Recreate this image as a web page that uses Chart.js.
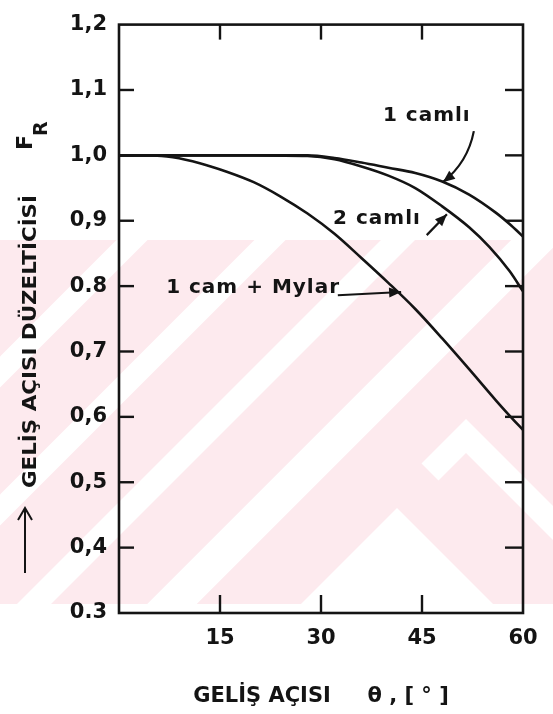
<!DOCTYPE html>
<html lang="tr">
<head>
<meta charset="utf-8">
<title>Geliş açısı düzelticisi F_R</title>
<script src="https://cdn.jsdelivr.net/npm/chart.js@4.4.1/dist/chart.umd.min.js"></script>
<style>
    html, body { margin: 0; padding: 0; background: #fff; }
    canvas { display: block; }
</style>
</head>
<body>
<canvas id="chart-fr" width="553" height="714"></canvas>
<script>
// (theta derece, F_R)
const camli1Theta = [0, 10, 20, 28, 32, 36, 40, 44, 48, 52, 56, 58, 60];
const camli1FR    = [1.0, 1.0, 1.0, 1.0, 0.996, 0.989, 0.981, 0.973, 0.960, 0.940, 0.912, 0.895, 0.876];

const camli2Theta = [0, 10, 20, 28, 32, 36, 40, 44, 48, 52, 55, 58, 60];
const camli2FR    = [1.0, 1.0, 1.0, 0.999, 0.994, 0.983, 0.969, 0.950, 0.922, 0.890, 0.860, 0.823, 0.792];

const mylarTheta = [0, 5, 8, 12, 16, 20, 24, 28, 32, 36, 40, 44, 48, 52, 56, 58, 60];
const mylarFR    = [1.0, 1.0, 0.997, 0.988, 0.975, 0.959, 0.937, 0.911, 0.880, 0.843, 0.805, 0.765, 0.720, 0.673, 0.625, 0.602, 0.58];

const curveNames = ['1 camlı', '2 camlı', '1 cam + Mylar'];
const yTickLabels = ['0.3', '0,4', '0,5', '0,6', '0,7', '0.8', '0,9', '1,0', '1,1', '1,2'];
const xTickLabels = ['', '15', '30', '45', '60'];

const INK = '#141414';
const FONT = '"DejaVu Sans", sans-serif';

const toPoints = (xs, ys) => xs.map((x, i) => ({ x: x, y: ys[i] }));

// etiket ve ok konumlari veri biriminde (theta, F_R)
const notes = [
    { text: curveNames[0], at: [39.2, 1.060], arrow: [[52.7, 1.037], [51.8, 0.989], [48.1, 0.959]] },
    { text: curveNames[1], at: [31.8, 0.9035], arrow: [[45.7, 0.878], null, [48.7, 0.910]] },
    { text: curveNames[2], at: [7.0, 0.797], arrow: [[32.5, 0.786], null, [41.9, 0.791]] }
];

// arka plandaki soluk pembe filigran
const watermark = {
    id: 'watermark',
    beforeDraw(chart) {
        const ctx = chart.ctx;
        ctx.save();
        ctx.fillStyle = '#fff';
        ctx.fillRect(0, 0, chart.width, chart.height);
        ctx.beginPath();
        ctx.rect(0, 240, chart.width, 364);
        ctx.clip();
        ctx.fillStyle = '#fdeaee';
        ctx.fillRect(0, 240, chart.width, 364);
        ctx.strokeStyle = '#fff';
        // [x + y sabiti, kalinlik]
        [[372, 22], [510, 22], [638, 24], [776, 35]].forEach(([c, lw]) => {
            ctx.lineWidth = lw;
            ctx.beginPath();
            ctx.moveTo(c - 150, 150);
            ctx.lineTo(c - 700, 700);
            ctx.stroke();
        });
        // ucgen ve sag tarafta ters v
        ctx.fillStyle = '#fff';
        ctx.beginPath();
        ctx.moveTo(397, 508);
        ctx.lineTo(300, 605);
        ctx.lineTo(494, 605);
        ctx.closePath();
        ctx.fill();
        ctx.lineWidth = 24;
        ctx.beginPath();
        ctx.moveTo(430, 472);
        ctx.lineTo(466, 436);
        ctx.lineTo(600, 570);
        ctx.stroke();
        ctx.restore();
    }
};

// cerceve ve ice dogru cizgi isaretleri
const frameTicks = {
    id: 'frameTicks',
    afterDatasetsDraw(chart) {
        const { ctx, chartArea: a, scales: { x, y } } = chart;
        const seg = (x1, y1, x2, y2) => {
            ctx.beginPath();
            ctx.moveTo(x1, y1);
            ctx.lineTo(x2, y2);
            ctx.stroke();
        };
        ctx.save();
        ctx.strokeStyle = INK;
        ctx.lineWidth = 2.6;
        ctx.strokeRect(a.left, a.top, a.right - a.left, a.bottom - a.top);
        ctx.lineWidth = 2.4;
        y.ticks.forEach(t => {
            if (t.value <= y.min + 1e-6 || t.value >= y.max - 1e-6) return;
            const py = y.getPixelForValue(t.value);
            seg(a.left, py, a.left + 15, py);
            seg(a.right - 18, py, a.right, py);
        });
        x.ticks.forEach(t => {
            if (t.value <= x.min + 1e-6 || t.value >= x.max - 1e-6) return;
            const px = x.getPixelForValue(t.value);
            seg(px, a.bottom, px, a.bottom - 18);
            seg(px, a.top, px, a.top + 15);
        });
        ctx.restore();
    }
};

function arrowHead(ctx, x, y, dx, dy, len, half) {
    const d = Math.hypot(dx, dy);
    const ux = dx / d, uy = dy / d;
    ctx.beginPath();
    ctx.moveTo(x, y);
    ctx.lineTo(x - ux * len - uy * half, y - uy * len + ux * half);
    ctx.lineTo(x - ux * len + uy * half, y - uy * len - ux * half);
    ctx.closePath();
    ctx.fill();
}

// egri adlari, oklar ve dikey eksen basligi
const notesPlugin = {
    id: 'notes',
    afterDraw(chart) {
        const { ctx, scales: { x, y } } = chart;
        const px = p => [x.getPixelForValue(p[0]), y.getPixelForValue(p[1])];
        ctx.save();
        ctx.fillStyle = INK;
        ctx.strokeStyle = INK;
        ctx.font = 'bold 20px ' + FONT;
        ctx.textBaseline = 'middle';
        ctx.textAlign = 'left';
        if ('letterSpacing' in ctx) ctx.letterSpacing = '1px';

        notes.forEach(n => {
            const [tx, ty] = px(n.at);
            ctx.fillText(n.text, tx, ty);
            const [s, c, e] = n.arrow;
            const [sx, sy] = px(s);
            const [ex, ey] = px(e);
            ctx.lineWidth = 2.2;
            ctx.beginPath();
            ctx.moveTo(sx, sy);
            let dx = ex - sx, dy = ey - sy;
            if (c) {
                const [cx, cy] = px(c);
                ctx.quadraticCurveTo(cx, cy, ex, ey);
                dx = ex - cx; dy = ey - cy;
            } else {
                ctx.lineTo(ex, ey);
            }
            ctx.stroke();
            arrowHead(ctx, ex, ey, dx, dy, 12, 5);
        });

        if ('letterSpacing' in ctx) ctx.letterSpacing = '0px';
        ctx.save();
        ctx.translate(36, 573);
        ctx.rotate(-Math.PI / 2);
        // ok
        ctx.lineWidth = 2;
        ctx.beginPath();
        ctx.moveTo(0, -11);
        ctx.lineTo(64, -11);
        ctx.moveTo(53, -18);
        ctx.lineTo(65, -11);
        ctx.lineTo(53, -4);
        ctx.stroke();
        // yazi
        ctx.textBaseline = 'alphabetic';
        ctx.font = 'bold 20px ' + FONT;
        const title = 'GELİŞ AÇISI DÜZELTİCİSİ';
        const w = ctx.measureText(title).width;
        ctx.save();
        ctx.translate(85, 0);
        ctx.scale(293 / w, 1);
        ctx.fillText(title, 0, 0);
        ctx.restore();
        ctx.font = 'bold 22px ' + FONT;
        ctx.fillText('F', 423, -4);
        ctx.font = 'bold 19px ' + FONT;
        ctx.fillText('R', 437, 11);
        ctx.restore();
        ctx.restore();
    }
};

const ctx = document.getElementById('chart-fr');

const lineStyle = {
    borderColor: INK,
    borderWidth: 2.6,
    pointRadius: 0,
    fill: false,
    cubicInterpolationMode: 'monotone'
};

new Chart(ctx, {
    type: 'line',
    data: {
        datasets: [
            { ...lineStyle, label: curveNames[0], data: toPoints(camli1Theta, camli1FR) },
            { ...lineStyle, label: curveNames[1], data: toPoints(camli2Theta, camli2FR) },
            { ...lineStyle, label: curveNames[2], data: toPoints(mylarTheta, mylarFR) }
        ]
    },
    options: {
        responsive: false,
        devicePixelRatio: 1,
        animation: false,
        layout: { padding: { top: 15, right: 30, left: 0, bottom: 0 } },
        plugins: {
            legend: { display: false },
            tooltip: { enabled: false }
        },
        scales: {
            x: {
                type: 'linear',
                min: 0,
                max: 60,
                grid: { display: false, drawTicks: false },
                border: { display: false },
                ticks: {
                    stepSize: 15,
                    padding: 13,
                    maxRotation: 0,
                    color: INK,
                    font: { family: FONT, size: 21, weight: 'bold' },
                    callback: v => xTickLabels[Math.round(v / 15)]
                },
                title: {
                    display: true,
                    text: 'GELİŞ AÇISI     θ , [ ° ]',
                    color: INK,
                    padding: { top: 0, bottom: 5 },
                    font: { family: FONT, size: 21, weight: 'bold' }
                },
                afterFit: scale => { scale.height = 101; }
            },
            y: {
                type: 'linear',
                min: 0.3,
                max: 1.2,
                grid: { display: false, drawTicks: false },
                border: { display: false },
                ticks: {
                    stepSize: 0.1,
                    padding: 12,
                    color: INK,
                    font: { family: FONT, size: 21, weight: 'bold' },
                    callback: v => yTickLabels[Math.round(v * 10) - 3]
                },
                afterFit: scale => { scale.width = 119; }
            }
        }
    },
    plugins: [watermark, frameTicks, notesPlugin]
});
</script>
</body>
</html>
